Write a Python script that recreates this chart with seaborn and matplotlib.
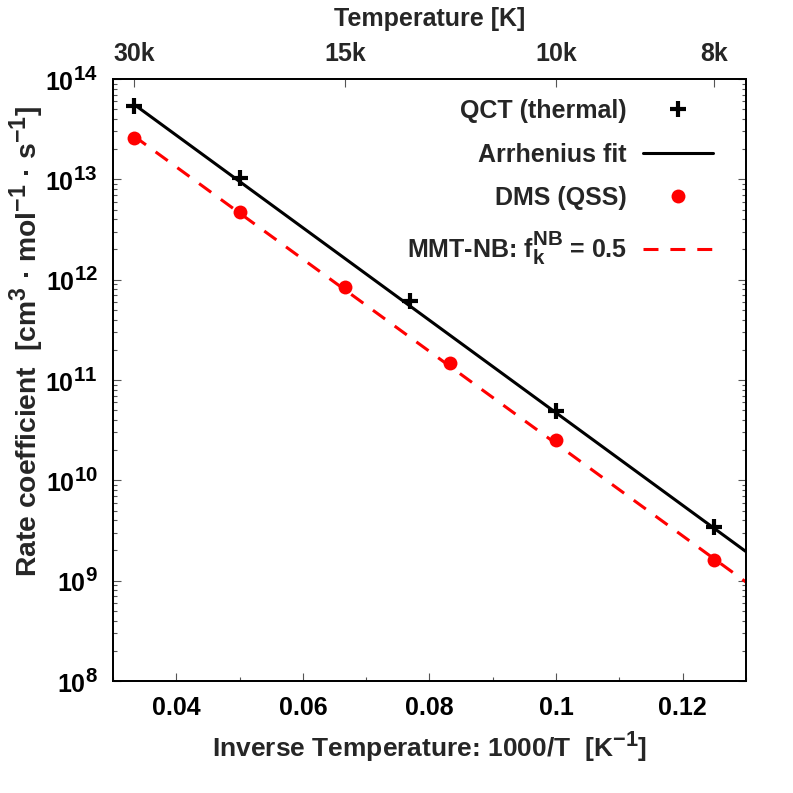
import numpy as np
import matplotlib
matplotlib.use('Agg')
import matplotlib.pyplot as plt
import matplotlib._mathtext as mathtext_internal
import seaborn as sns
from matplotlib.ticker import FixedLocator, FuncFormatter, LogLocator, NullFormatter, MultipleLocator

# values (x = 1000/T in 1/K, y = rate coefficient)
qct_inv_T = [0.0333, 0.05, 0.0769, 0.1, 0.125]
qct_k = [5.4e13, 1.02e13, 6.1e11, 4.9e10, 3.4e9]

fit_inv_T = [0.0333, 0.13]
fit_k = [5.6e13, 1.95e9]

dms_inv_T = [0.0333, 0.05, 0.0667, 0.0833, 0.1, 0.125]
dms_k = [2.6e13, 4.7e12, 8.5e11, 1.48e11, 2.5e10, 1.6e9]

mmt_inv_T = [0.0333, 0.13]
mmt_k = [2.7e13, 9.7e8]

temp_ticks_K = [30000, 15000, 10000, 8000]
temp_labels = ['30k', '15k', '10k', '8k']

sns.set_theme(style='ticks')
plt.rcParams['font.family'] = ['Liberation Sans', 'DejaVu Sans']
plt.rcParams['font.weight'] = 'bold'
plt.rcParams['mathtext.fontset'] = 'custom'
plt.rcParams['mathtext.rm'] = 'Liberation Sans:bold'
plt.rcParams['mathtext.it'] = 'Liberation Sans:bold'
plt.rcParams['mathtext.bf'] = 'Liberation Sans:bold'
plt.rcParams['mathtext.default'] = 'rm'
# gnuplot-like superscripts are bigger than mathtext's default
mathtext_internal.SHRINK_FACTOR = 0.82

FS = 18

fig = plt.figure(figsize=(7.93, 7.93), dpi=100)
ax = fig.add_axes([0.1425, 0.1412, 0.7982, 0.7592])
ax.set_yscale('log')

sns.lineplot(x=qct_inv_T, y=qct_k, ax=ax, color='black', linestyle='', marker='+',
             markersize=11, markeredgewidth=3.0, markeredgecolor='black', label='QCT (thermal)')
sns.lineplot(x=fit_inv_T, y=fit_k, ax=ax, color='black', linewidth=2.2, label='Arrhenius fit')
sns.lineplot(x=dms_inv_T, y=dms_k, ax=ax, color='#ff0000', linestyle='', marker='o',
             markersize=10, markeredgewidth=0, markeredgecolor='#ff0000', label='DMS (QSS)')
sns.lineplot(x=mmt_inv_T, y=mmt_k, ax=ax, color='#ff0000', linewidth=2.2,
             dashes=False, label=r'MMT-NB: f$_{k}^{NB}$ = 0.5')
ax.lines[-1].set_dashes((4.9, 3.9))

ax.set_xlim(0.03, 0.13)
ax.set_ylim(1e8, 1e14)

# bottom axis
ax.xaxis.set_major_locator(FixedLocator([0.04, 0.06, 0.08, 0.1, 0.12]))
ax.xaxis.set_major_formatter(FuncFormatter(lambda v, p: ('%.2f' % v).rstrip('0')))
ax.xaxis.set_minor_locator(MultipleLocator(0.01))
ax.yaxis.set_major_locator(LogLocator(base=10, numticks=20))
ax.yaxis.set_major_formatter(FuncFormatter(lambda v, p: r'$10^{%d}$' % round(np.log10(v))))
ax.yaxis.set_minor_locator(LogLocator(base=10, subs=np.arange(2, 10), numticks=100))
ax.yaxis.set_minor_formatter(NullFormatter())

ax.tick_params(axis='both', which='both', direction='in', colors='black', labelsize=FS)
ax.tick_params(axis='x', which='both', top=False, bottom=True, pad=11)
ax.tick_params(axis='y', which='both', left=True, right=True, pad=11)
ax.tick_params(which='major', length=6, width=0.8, color='#555555')
ax.tick_params(which='minor', length=3, width=0.8, color='#555555')
for s in ax.spines.values():
    s.set_linewidth(1.3)
    s.set_color('black')

ax.set_xlabel(r'Inverse Temperature: 1000/T  [K$^{-1}$]', fontsize=19, fontweight='bold', labelpad=8)
fig.text(0.033, 1 - 341 / 793, r'Rate coefficient  [cm$^{3}$ · mol$^{-1}$ · s$^{-1}$]',
         rotation=90, ha='center', va='center', fontsize=20.3, fontweight='bold')

# top axis: temperature
ax_top = ax.twiny()
ax_top.set_xlim(ax.get_xlim())
ax_top.set_xticks([1000.0 / t for t in temp_ticks_K])
ax_top.set_xticklabels(temp_labels)
ax_top.tick_params(axis='x', direction='in', length=6, width=0.8, color='#555555',
                   labelsize=FS, pad=9)
ax_top.xaxis.set_minor_locator(plt.NullLocator())
ax_top.set_xlabel('Temperature [K]', fontsize=FS, fontweight='bold', labelpad=12)
for s in ax_top.spines.values():
    s.set_linewidth(1.3)
    s.set_color('black')

handles, labels = ax.get_legend_handles_labels()
if ax.get_legend() is not None:
    ax.get_legend().remove()
leg = ax.legend(handles, labels, loc='upper right', bbox_to_anchor=(713 / 793, 1 - 99 / 793),
                bbox_transform=fig.transFigure, frameon=False, markerfirst=False,
                fontsize=FS, handlelength=2.8, handletextpad=0.65, labelspacing=0.78,
                borderpad=0, borderaxespad=0)

fig.savefig('out.png', dpi=100)
